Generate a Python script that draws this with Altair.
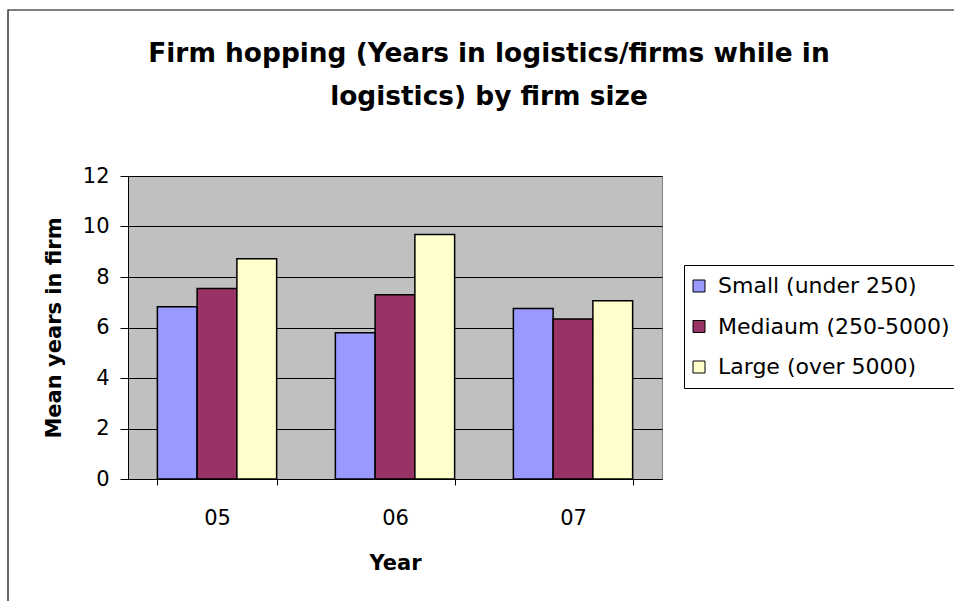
import altair as alt
import pandas as pd

years = ["05", "06", "07"]
sizes = ["Small (under 250)", "Mediaum (250-5000)", "Large (over 5000)"]
small = [6.82, 5.79, 6.75]
medium = [7.54, 7.30, 6.34]
large = [8.72, 9.68, 7.06]
colors = ["#9999FF", "#993366", "#FFFFCC"]

rows = []
for series_name, vals in zip(sizes, [small, medium, large]):
    for yr, v in zip(years, vals):
        rows.append({"Year": yr, "Size": series_name, "Value": v})
df = pd.DataFrame(rows)

FONT = "DejaVu Sans"

bars = alt.Chart(df).mark_bar(stroke="black", strokeWidth=1.5).encode(
    x=alt.X(
        "Year:N",
        sort=years,
        scale=alt.Scale(paddingInner=0.33, paddingOuter=0.165),
        axis=alt.Axis(
            title="Year",
            labelAngle=0,
            tickBand="extent",
            tickSize=6,
            labelPadding=22,
            titlePadding=24,
            labelFontSize=21,
            titleFontSize=21,
            titleFontWeight="bold",
            domainColor="black",
            tickColor="black",
            labelColor="black",
            titleColor="black",
            grid=False,
        ),
    ),
    xOffset=alt.XOffset(
        "Size:N", sort=sizes, scale=alt.Scale(paddingInner=0, paddingOuter=0)
    ),
    y=alt.Y(
        "Value:Q",
        scale=alt.Scale(domain=[0, 12], nice=False),
        axis=alt.Axis(
            title="Mean years in firm",
            values=[0, 2, 4, 6, 8, 10, 12],
            tickSize=8,
            labelPadding=11,
            titlePadding=18,
            labelFontSize=21,
            titleFontSize=21,
            titleFontWeight="bold",
            domainColor="black",
            tickColor="black",
            gridColor="black",
            gridWidth=1,
            labelColor="black",
            titleColor="black",
        ),
    ),
    color=alt.Color(
        "Size:N",
        sort=sizes,
        scale=alt.Scale(domain=sizes, range=colors),
        legend=alt.Legend(
            title=None,
            orient="none",
            legendX=556,
            legendY=89,
            padding=10,
            rowPadding=18.5,
            labelFontSize=22,
            labelColor="black",
            labelOffset=8,
            symbolOffset=-6,
            labelLimit=400,
            symbolType="square",
            symbolSize=144,
            symbolStrokeColor="black",
            symbolStrokeWidth=1,
            symbolOpacity=1,
            strokeColor="black",
            fillColor="white",
            cornerRadius=0,
        ),
    ),
)

frame_df = pd.DataFrame({"f": [1]})
frame = alt.Chart(frame_df).mark_rect(
    fillOpacity=0, stroke="black", strokeWidth=1.2
).encode(
    x=alt.value(-120), x2=alt.value(836), y=alt.value(-166), y2=alt.value(435)
)

chart = (
    alt.layer(bars, frame)
    .properties(
        width=534,
        height=303,
        title=alt.TitleParams(
            text=["Firm hopping (Years in logistics/firms while in", "logistics) by firm size"],
            font=FONT,
            fontSize=26.4,
            fontWeight="bold",
            color="black",
            lineHeight=43,
            anchor="middle",
            frame="group",
            dx=94,
            offset=-101,
        ),
        padding={"left": 128, "top": 176, "right": 292, "bottom": 122},
        autosize=alt.AutoSizeParams(type="none"),
    )
    .configure(font=FONT, background="white")
    .configure_view(fill="#C0C0C0", stroke="#808080", strokeWidth=1)
)

chart.save("out.html", embed_options={"renderer": "svg", "actions": False})
